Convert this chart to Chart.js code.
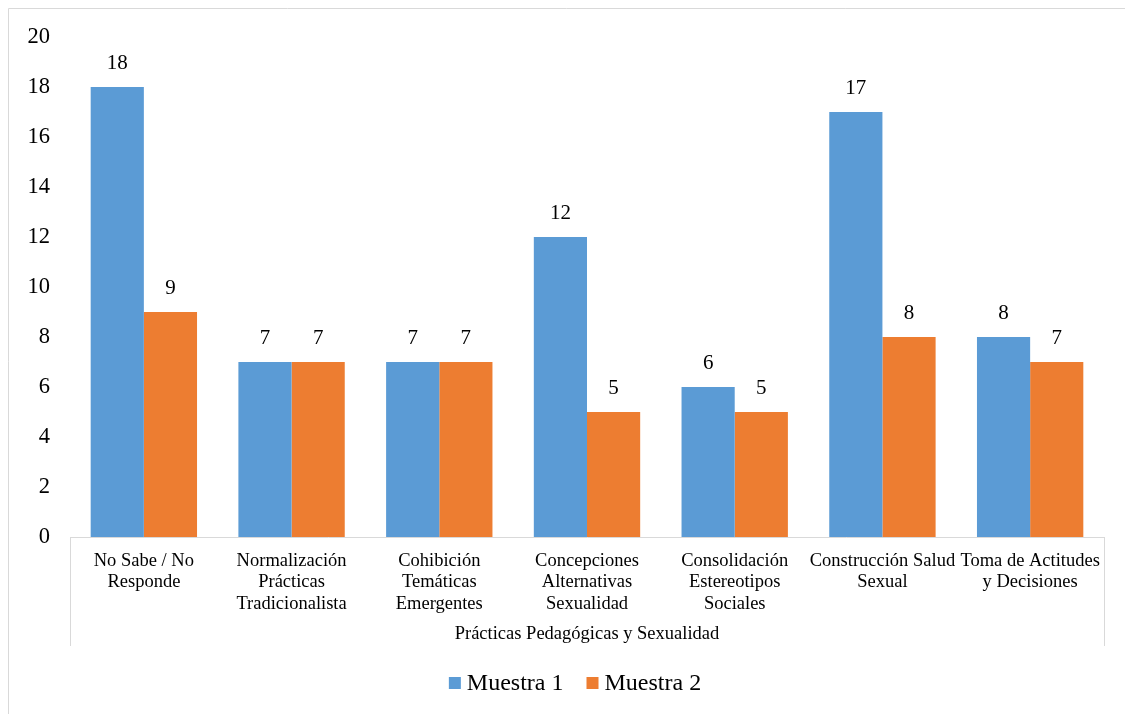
<!DOCTYPE html>
<html>
<head>
<meta charset="utf-8">
<script src="https://cdn.jsdelivr.net/npm/chart.js@4.4.0/dist/chart.umd.min.js"></script>
<style>
  html, body { margin: 0; padding: 0; background: #fff; }
  #wrap { width: 1125px; height: 714px; position: relative; }
</style>
</head>
<body>
<div id="wrap"><canvas id="chart" width="1125" height="714"></canvas></div>
<script>
// ====== Data ======
const categories = [
    ['No Sabe / No', 'Responde'],
    ['Normalización', 'Prácticas', 'Tradicionalista'],
    ['Cohibición', 'Temáticas', 'Emergentes'],
    ['Concepciones', 'Alternativas', 'Sexualidad'],
    ['Consolidación', 'Estereotipos', 'Sociales'],
    ['Construcción Salud', 'Sexual'],
    ['Toma de Actitudes', 'y Decisiones']
];
const muestra1 = [18, 7, 7, 12, 6, 17, 8];
const muestra2 = [9, 7, 7, 5, 5, 8, 7];
const groupLabel = 'Prácticas Pedagógicas y Sexualidad';
const yTicks = { min: 0, max: 20, step: 2 };

const serif = '"Liberation Serif", "Times New Roman", serif';

// value labels, outer frame, grouped axis box and a Word-style legend
const decorations = {
    id: 'decorations',
    afterDatasetsDraw(chart) {
        const ctx = chart.ctx;
        ctx.save();
        ctx.fillStyle = '#000';
        ctx.font = '21px ' + serif;
        ctx.textAlign = 'center';
        ctx.textBaseline = 'bottom';
        chart.data.datasets.forEach((ds, i) => {
            chart.getDatasetMeta(i).data.forEach((bar, j) => {
                ctx.fillText(String(ds.data[j]), bar.x, bar.y - 13);
            });
        });
        ctx.restore();
    },
    afterDraw(chart) {
        const ctx = chart.ctx;
        const a = chart.chartArea;
        ctx.save();
        // outer frame
        ctx.strokeStyle = '#d9d9d9';
        ctx.lineWidth = 1;
        ctx.beginPath();
        ctx.moveTo(8.5, 714);
        ctx.lineTo(8.5, 8.5);
        ctx.lineTo(1125, 8.5);
        ctx.stroke();
        // axis box sides
        ctx.beginPath();
        ctx.moveTo(Math.round(a.left) + 0.5, a.bottom);
        ctx.lineTo(Math.round(a.left) + 0.5, a.bottom + 109);
        ctx.moveTo(Math.round(a.right) + 0.5, a.bottom);
        ctx.lineTo(Math.round(a.right) + 0.5, a.bottom + 109);
        ctx.stroke();
        // group label
        ctx.fillStyle = '#000';
        ctx.font = '18.5px ' + serif;
        ctx.textAlign = 'center';
        ctx.textBaseline = 'middle';
        ctx.fillText(groupLabel, (a.left + a.right) / 2, a.bottom + 97);

        // legend
        ctx.font = '24px ' + serif;
        ctx.textAlign = 'left';
        const box = 12, gapText = 6, gapItem = 23;
        const items = chart.data.datasets.map(ds => ({
            label: ds.label, color: ds.backgroundColor,
            w: box + gapText + ctx.measureText(ds.label).width
        }));
        const total = items.reduce((s, it) => s + it.w, 0) + gapItem * (items.length - 1);
        let x = 575 - total / 2;
        const y = a.bottom + 146;
        items.forEach(it => {
            ctx.fillStyle = it.color;
            ctx.fillRect(x, y - box / 2, box, box);
            ctx.fillStyle = '#000';
            ctx.fillText(it.label, x + box + gapText, y + 1);
            x += it.w + gapItem;
        });
        ctx.restore();
    }
};

new Chart(document.getElementById('chart'), {
    type: 'bar',
    data: {
        labels: categories,
        datasets: [
            { label: 'Muestra 1', data: muestra1, backgroundColor: '#5B9BD5' },
            { label: 'Muestra 2', data: muestra2, backgroundColor: '#ED7D31' }
        ]
    },
    options: {
        responsive: false,
        animation: false,
        devicePixelRatio: 1,
        layout: { padding: { left: 0, right: 21, top: 37, bottom: 62 } },
        datasets: { bar: { categoryPercentage: 0.72, barPercentage: 1 } },
        plugins: {
            tooltip: { enabled: false },
            legend: { display: false }
        },
        scales: {
            x: {
                grid: { display: false },
                border: { display: true, color: '#d9d9d9' },
                ticks: {
                    color: '#000', padding: 6, maxRotation: 0, autoSkip: false,
                    font: { family: serif, size: 18.5, lineHeight: 1.14 }
                },
                afterFit(scale) { scale.height = 115; }
            },
            y: {
                min: yTicks.min, max: yTicks.max,
                grid: { display: false },
                border: { display: false },
                ticks: {
                    stepSize: yTicks.step, color: '#000', padding: 12,
                    font: { family: serif, size: 22.5 }
                },
                afterFit(scale) { scale.width = 70; }
            }
        }
    },
    plugins: [decorations]
});
</script>
</body>
</html>
